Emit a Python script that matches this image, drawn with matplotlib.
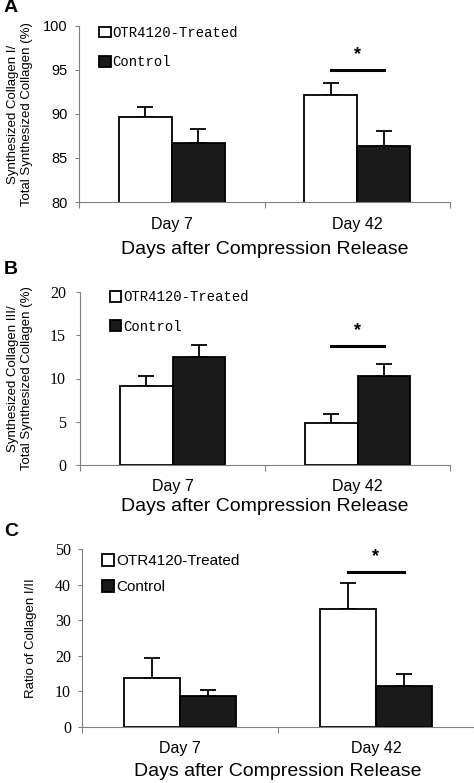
import matplotlib.pyplot as plt
import numpy as np

days = ["Day 7", "Day 42"]
groups = ["OTR4120-Treated", "Control"]

# panel A: collagen I / total (%)
col1_treated = [89.7, 92.2]
col1_treated_err = [1.1, 1.3]
col1_control = [86.7, 86.4]
col1_control_err = [1.6, 1.7]

# panel B: collagen III / total (%)
col3_treated = [9.1, 4.8]
col3_treated_err = [1.2, 1.1]
col3_control = [12.5, 10.3]
col3_control_err = [1.4, 1.4]

# panel C: ratio of collagen I/III
ratio_treated = [13.9, 33.1]
ratio_treated_err = [5.5, 7.3]
ratio_control = [8.6, 11.6]
ratio_control_err = [1.7, 3.2]

sans = "Liberation Sans"
serif = "Liberation Serif"
mono = "Liberation Mono"
W, H = 474, 783


def panel(ax, treated, t_err, control, c_err, ylim, yticks, sig_y,
          tick_font, tick_size, tick_pad, leg_font, leg_size, leg_anchor,
          leg_spacing, ylabel, ylabel_x, xlabel_y, day_pad):
    x = np.arange(len(days)) + 0.5
    w = 0.286
    bt = ax.bar(x - w / 2, treated, w, color="white", edgecolor="black",
                linewidth=1.3, zorder=2)
    bc = ax.bar(x + w / 2, control, w, color="#1a1a1a", edgecolor="black",
                linewidth=1.3, zorder=2)
    ax.errorbar(x - w / 2, treated, yerr=[np.zeros(len(x)), t_err], fmt="none",
                ecolor="black", elinewidth=1.3, capsize=5.5, capthick=1.3, zorder=1)
    ax.errorbar(x + w / 2, control, yerr=[np.zeros(len(x)), c_err], fmt="none",
                ecolor="black", elinewidth=1.3, capsize=5.5, capthick=1.3, zorder=1)

    # significance bar over Day 42
    ax.plot([x[1] - w / 2, x[1] + w / 2], [sig_y, sig_y], color="black", lw=2.2)
    span = ylim[1] - ylim[0]
    ax.text(x[1], sig_y + span * 0.04, "*", ha="center", va="bottom",
            fontsize=13, fontweight="bold", family=sans)

    ax.set_xlim(0, 2)
    ax.set_ylim(*ylim)
    ax.set_yticks(yticks)
    ax.set_xticks([0, 1, 2])
    ax.set_xticklabels([])
    ax.set_xticks(x, minor=True)
    ax.set_xticklabels(days, minor=True, family=sans, fontsize=11.5)
    ax.tick_params(axis="x", which="major", direction="out", length=4,
                   color="#808080", width=0.8)
    ax.tick_params(axis="x", which="minor", length=0, pad=day_pad)
    ax.tick_params(axis="y", direction="out", length=3, color="#808080",
                   width=0.8, pad=tick_pad)
    for lbl in ax.get_yticklabels():
        lbl.set_family(tick_font)
        lbl.set_fontsize(tick_size)
    for s in ["top", "right"]:
        ax.spines[s].set_visible(False)
    for s in ["left", "bottom"]:
        ax.spines[s].set_color("#808080")
        ax.spines[s].set_linewidth(0.8)

    ax.legend([bt, bc], groups, loc="upper left", bbox_to_anchor=leg_anchor,
              frameon=False, prop=dict(family=leg_font, size=leg_size),
              handlelength=0.8, handleheight=0.8, handletextpad=0.15,
              labelspacing=leg_spacing, borderpad=0, borderaxespad=0)

    ax.set_ylabel(ylabel, family=sans, fontsize=9.5, linespacing=1.2)
    ax.yaxis.set_label_coords(ylabel_x, 0.5)
    ax.set_xlabel("Days after Compression Release", family=sans, fontsize=14)
    ax.xaxis.set_label_coords(0.5, xlabel_y)


fig = plt.figure(figsize=(W / 100, H / 100), dpi=100)

axA = fig.add_axes([79 / W, 1 - 202 / H, 371 / W, 176 / H])
panel(axA, col1_treated, col1_treated_err, col1_control, col1_control_err,
      (80, 100), [80, 85, 90, 95, 100], 95.0,
      sans, 10.5, 5, mono, 10, (0.055, 1.0), 1.1,
      "Synthesized Collagen I/\nTotal Synthesized Collagen (%)", -0.125, -0.22, 11)

axB = fig.add_axes([80 / W, 1 - 465 / H, 370 / W, 173 / H])
panel(axB, col3_treated, col3_treated_err, col3_control, col3_control_err,
      (0, 20), [0, 5, 10, 15, 20], 13.7,
      serif, 11.5, 7, mono, 10, (0.08, 1.01), 1.1,
      "Synthesized Collagen III/\nTotal Synthesized Collagen (%)", -0.128, -0.19, 10)

axC = fig.add_axes([82 / W, 1 - 727 / H, 392 / W, 178 / H])
panel(axC, ratio_treated, ratio_treated_err, ratio_control, ratio_control_err,
      (0, 50), [0, 10, 20, 30, 40, 50], 43.4,
      serif, 11.5, 5, sans, 11, (0.05, 0.97), 0.75,
      "Ratio of Collagen I/II", -0.115, -0.2, 10)

for lab, yp in [("A", 8), ("B", 270), ("C", 532)]:
    fig.text(4 / W, 1 - yp / H, lab, family=sans, fontsize=14,
             fontweight="bold", va="center", ha="left")

fig.savefig("out.png", dpi=100)
